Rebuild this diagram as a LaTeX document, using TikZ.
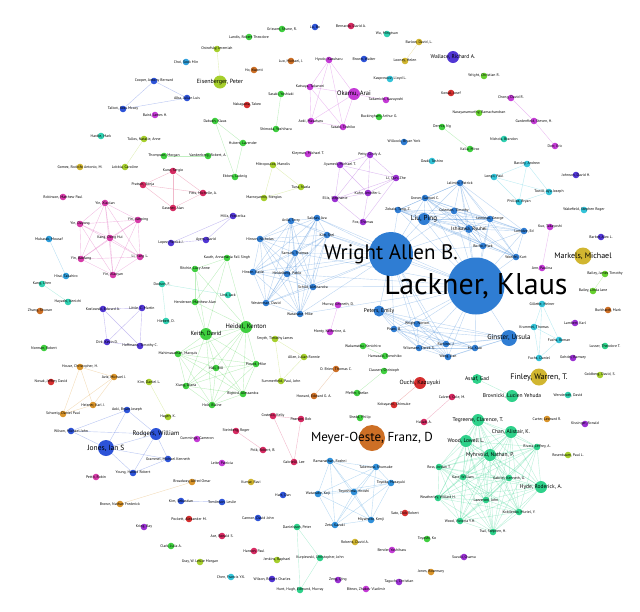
\documentclass[tikz,border=0pt]{standalone}
\usepackage{fontspec}
\setmainfont{PT Sans}
\usetikzlibrary{backgrounds}
\definecolor{cB}{HTML}{2F7DD3}
\definecolor{cBb}{HTML}{3090DA}
\definecolor{cD}{HTML}{2D53D8}
\definecolor{cI}{HTML}{5136D4}
\definecolor{cM}{HTML}{C43AD6}
\definecolor{cP}{HTML}{9A30D2}
\definecolor{cK}{HTML}{D63AA8}
\definecolor{cC}{HTML}{D62A62}
\definecolor{cR}{HTML}{D62F2F}
\definecolor{cO}{HTML}{CD6F25}
\definecolor{cOy}{HTML}{D9942A}
\definecolor{cY}{HTML}{D1B630}
\definecolor{cL}{HTML}{A6CF2C}
\definecolor{cLG}{HTML}{66D02F}
\definecolor{cG}{HTML}{3FCF3F}
\definecolor{cT}{HTML}{2ED18A}
\definecolor{cQ}{HTML}{2FD0B0}
\definecolor{cS}{HTML}{33C3D8}
\definecolor{cSky}{HTML}{2F9FDC}
\tikzset{
 v/.style={circle,inner sep=0pt,minimum size=6.6pt,draw=none},
 lab/.style={inner sep=0pt,text=black,font=\fontsize{3.8}{4}\selectfont},
 e/.style={line width=0.4pt,opacity=0.33},
}
\newcommand\vx[5]{\node[v,fill=#4,label={[lab]center:{#5}}] (#1) at (#2,#3) {};}
\newcommand\vb[7]{\node[v,minimum size=#6,fill=#4,label={[lab,font=\fontsize{#7}{#7}\selectfont]center:{#5}}] (#1) at (#2,#3) {};}
\newcommand\pr[3]{\draw[e,#1] (#2) -- (#3);}
\newcommand\hub[3]{\foreach \b in {#3}{\draw[e,#1] (#2) -- (\b);}}
\newcommand\clq[2]{\foreach \a [count=\i] in {#2}{\foreach \b [count=\j] in {#2}{\ifnum\j>\i\relax\draw[e,#1] (\a) -- (\b);\fi}}}
\begin{document}
\begin{tikzpicture}[x=1pt,y=-1pt]
\useasboundingbox (0,0) rectangle (640,611);
% top
\vx{landis}{249}{37}{cG}{Landis, Robert Theodore}
\vx{grissom}{282}{29}{cG}{Grissom, Shane, R.}
\vx{lubo}{315}{27}{cD}{Lu, Bo}
\vx{bernardo}{351}{26}{cC}{Bernardo, David A.}
\vx{wu}{387}{34}{cQ}{Wu, Mingtsun}
\vx{barlow}{419}{42}{cY}{Barlow, David, L.}
\vx{looney}{405}{61}{cY}{Looney, Helen}
\vb{wallace}{453}{57}{cI}{Wallace, Richard A.}{12}{5.5}
\vx{wrightc}{484}{76}{cLG}{Wright, Christian R.}
\vx{ostrof}{217}{49}{cL}{Ostrofsky, Jeremiah}
\vx{choi}{186}{62}{cSky}{Choi, Sook Min}
\vx{luo}{291}{61}{cO}{Luo, Michael, J.}
\vx{ho}{254}{70}{cO}{Ho, Kwonti}
\vb{eisen}{220}{82}{cL}{Eisenberger, Peter}{13}{6}
\vx{cooper}{154}{81}{cD}{Cooper, Antony Bernard}
\vx{talbot}{123}{109}{cD}{Talbot, Ross Mccoy}
\vx{alba}{187}{98}{cD}{Alba, Julian Luis}
\vx{baird}{155}{115}{cM}{Baird, James H.}
\vx{naka}{247}{105}{cR}{Nakagawa, Takeo}
\vx{sasakiy}{281}{94}{cG}{Sasaki, Yoshiaki}
\vx{shimoda}{276}{129}{cG}{Shimoda, Yoshiharu}
\vx{hyodo}{329}{60}{cM}{Hyodo, Kazuharu}
\vx{kanatsu}{310}{87}{cM}{Katsuya, Takanori}
\vx{aokim}{311}{121}{cM}{Aoki, Masaharu}
\vb{okamu}{354}{94}{cM}{Okamu, Arai}{12}{6.5}
\vx{sasakit}{343}{127}{cM}{Sasaki, Toshiko}
\vx{tada}{386}{100}{cM}{Tadamichi, Kazuyoshi}
\vx{brown}{364}{59}{cD}{Brown, Walter}
\vx{kaspr}{390}{79}{cS}{Kasprowicz, Lloyd L.}
\vx{buck}{379}{117}{cG}{Buckingham, Arthur G.}
\vx{kowal}{451}{93}{cR}{Kowal, Josef}
\vx{naray}{479}{113}{cLG}{Narayanamurthy, Ramachandran}
\vx{dennis}{442}{127}{cG}{Dennis, Ng}
\vx{kalla}{470}{149}{cG}{Kalla, Mirco}
\vx{wilc}{404}{142}{cB}{Willcock, Bryan York}
\vx{ozaki}{432}{161}{cS}{Ozaki, Toshiro}
\vx{chong}{511}{98}{cM}{Chong, David R.}
\vx{garden}{534}{121}{cM}{Gardenfield, Steven, H.}
\vx{dorr}{555}{146}{cM}{Dorr, Eric}
\vx{nichols}{504}{139}{cQ}{Nichols, Brandon}
\vx{barcley}{527}{164}{cS}{Barcley, Andrew}
\vx{longo}{494}{177}{cS}{Longo, Paul}
\vx{towill}{549}{192}{cS}{Towill, Ayu Joseph}
\vx{phillips}{519}{202}{cS}{Phillips, Bryan}
\vx{johnson}{576}{175}{cI}{Johnson, David H.}
% left
\vx{hardie}{101}{136}{cQ}{Hardie, Mark}
\vx{tullos}{144}{139}{cL}{Tullos, Natalie, Anne}
\vx{gomez}{80}{167}{cY}{Gomez, Rodolfo Antonio, M.}
\vx{lobbia}{125}{167}{cL}{Lobbia, Caroline}
\vx{thompson}{164}{156}{cG}{Thompson, Morgan}
\vx{vanden}{208}{156}{cG}{Vandenberg, Robert, A.}
\vx{dabush}{215}{121}{cG}{Dabush, Klaus}
\vx{hubert}{243}{143}{cG}{Hubert, Lavender}
\vx{ebberl}{235}{177}{cG}{Ebberl, Ludwig}
\vx{kleyman}{308}{154}{cM}{Kleyman, Michael T.}
\vx{mitro}{273}{165}{cL}{Mitropoulos, Manolis}
\vx{tuna}{301}{187}{cL}{Tuna, Nazla}
\vx{mavro}{264}{198}{cL}{Mavroyannis, Stergios}
\vx{kunz}{173}{171}{cC}{Kunz, Sergio}
\vx{fitts}{203}{193}{cC}{Fitts, Michelle, A.}
\vx{pratsch}{143}{185}{cC}{Pratsch, Sonja}
\vx{gassner}{173}{208}{cC}{Gassner, Alan}
\vx{robinson}{63}{197}{cK}{Robinson, Matthew Paul}
\vx{yx}{105}{203}{cK}{Yin, Xiaolan}
\vx{yd}{80}{224}{cK}{Yin, Dayong}
\vx{yj}{138}{220}{cK}{Yin, Jianping}
\vx{kd}{110}{238}{cK}{Kang, Dong Hui}
\vx{yb}{81}{259}{cK}{Yin, Baofang}
\vx{lf}{140}{257}{cK}{Li, Fang L.}
\vx{yy}{113}{275}{cK}{Yin, Xiaoyan}
\vx{mubarak}{49}{239}{cSky}{Mubarak, Mousaf}
\vx{hirai}{66}{276}{cSky}{Hirai, Takahiro}
\vx{kangc}{42}{284}{cQ}{Kang, Chen}
\vx{hayashi}{68}{302}{cQ}{Hayashi, Kenichi}
\vx{zhang}{40}{311}{cO}{Zhang, Shunan}
\vx{kozl}{103}{309}{cI}{Kozlowski, Edward A.}
\vx{little}{142}{308}{cI}{Little, C. Martin}
\vx{dirk}{107}{342}{cI}{Dirk, Kevin D.}
\vx{hoff}{140}{346}{cI}{Hoffmann, Timothy C.}
\vx{norman}{44}{348}{cG}{Norman, Robert}
\vx{house}{80}{367}{cOy}{House, Christopher, H.}
\vx{aziz}{114}{377}{cOy}{Aziz, Michael J.}
\vx{novak}{51}{382}{cR}{Novak, Jeffrey David}
\vx{kimd}{149}{382}{cL}{Kim, Daniel L.}
\vx{heisner}{93}{405}{cOy}{Heisner, Karl J.}
\vx{schweig}{63}{414}{cOy}{Schweig, Daniel Paul}
\vx{mills}{233}{216}{cI}{Mills, Frederika}
\vx{lopez}{171}{243}{cI}{Lopez, Patrick J.}
\vx{ayers}{206}{240}{cI}{Ayers, David}
% blue left group
\vx{avila}{291}{221}{cB}{Avila, Terry}
\vx{salinas}{317}{218}{cB}{Salinas, Ava}
\vx{hinson}{260}{239}{cB}{Hinson, Nicholas}
\vx{samuel}{295}{253}{cB}{Samuel, Thomas}
\vx{hinsen}{253}{272}{cB}{Hinsen, Katie}
\vx{heidelb}{287}{274}{cB}{Heidelberg, Pablo}
\vx{schild}{313}{287}{cB}{Schild, Aleksandra}
\vx{wester}{266}{303}{cB}{Westerman, David}
\vx{watan}{300}{314}{cB}{Watanabe, Mike}
\vx{kimst}{327}{235}{cB}{Kim, Stel}
% purple group
\vx{petty}{370}{155}{cP}{Petty, Cindy A.}
\vx{jiya}{340}{165}{cP}{Jiyamedi, Michael T.}
\vx{liq}{396}{178}{cP}{Li, Qun, Zhe}
\vx{ellis}{335}{199}{cP}{Ellis, Stephanie}
\vx{kuhn}{368}{193}{cP}{Kuhn, Jennifer L.}
\vx{fox}{363}{222}{cP}{Fox, Thomas}
% Lackner group
\vb{lackner}{476}{286}{cB}{Lackner, Klaus}{57}{30}
\vb{wright}{391}{254}{cB}{Wright Allen B.}{44}{21}
\vb{liu}{424}{219}{cB}{Liu, Ping}{12}{7}
\vx{zobaid}{398}{210}{cB}{Zobaid, Tang, Z.}
\vx{coleman}{454}{211}{cB}{Coleman, Timothy}
\vb{ishi}{469}{229}{cB}{Ishikawa, Ryuhei}{8}{5}
\vx{jalim}{460}{183}{cB}{Jalimini, Patrick}
\vx{grover}{425}{198}{cB}{Grover, Samuel C.}
\vx{lemieux}{490}{219}{cB}{Lemieux, George}
\vx{lomid}{524}{231}{cB}{Lomidze, Ed}
\vx{markb}{483}{246}{cB}{Borho, Mark}
\vx{woelf}{516}{257}{cB}{Woelfel, Kurt}
\vb{peters}{379}{311}{cB}{Peters, Emily}{11}{5.5}
\vx{pirani}{394}{329}{cB}{Pirani, B.}
\vx{wrightn}{417}{324}{cB}{Wright, Norton}
\vx{wilsm}{419}{348}{cB}{Wilsmann, Derek S.}
\vx{ramirez}{446}{344}{cB}{Ramirez, J.}
\vx{wangj}{448}{357}{cB}{Wang, Jian}
\vx{max}{475}{348}{cB}{Ma, Xiao}
\vb{ginster}{509}{338}{cB}{Ginster, Ursula}{16}{7}
% right
\vx{wakef}{584}{210}{cS}{Wakefield, Stephen Roger}
\vx{kuo}{550}{227}{cM}{Kuo, Takayoshi}
\vx{ann}{542}{268}{cM}{Ann, Paulina}
\vx{barber}{601}{237}{cI}{Barber, Alex L.}
\vb{markels}{583}{256}{cY}{Markels, Michael}{17}{8}
\vx{baileyj}{605}{274}{cLG}{Bailey, James Timothy}
\vx{baileyl}{593}{291}{cLG}{Bailey, Linda Jane}
\vx{burk}{608}{310}{cO}{Burkhardt, Mark}
\vx{gillette}{542}{304}{cS}{Gillette, Heiner}
\vx{lambert}{575}{323}{cP}{Lambert, Karl}
\vx{krummel}{534}{327}{cS}{Krummel, Thomas}
\vx{fuchsr}{559}{340}{cS}{Fuchs, Roman}
\vx{lusser}{605}{346}{cT}{Lusser, Theodore T.}
\vx{fuchsd}{539}{358}{cS}{Fuchs, Daniel}
\vx{gohdel}{573}{358}{cP}{Gohdel, Ramsey}
\vb{finley}{539}{377}{cY}{Finley, Warren, T.}{17}{8}
\vx{goldberg}{600}{375}{cL}{Goldberg, David, S.}
\vx{wender}{568}{395}{cQ}{Wenderoth, David}
\vb{assaf}{477}{379}{cT}{Assaf, Gad}{10}{5.5}
\vb{brov}{512}{396}{cT}{Brovnicki, Lucien Yehuda}{12}{5.5}
% middle
\vx{murray}{338}{305}{cM}{Murray, Kenneth, D.}
\vx{monty}{330}{332}{cM}{Monty, Katherine, A.}
\vx{smyth}{275}{339}{cL}{Smyth, Timothy James}
\vx{allen}{304}{357}{cL}{Allen, Julian Ronnie}
\vx{summer}{281}{381}{cL}{Summerfield, Paul, John}
\vx{howard}{314}{396}{cO}{Howard, Edward G. A.}
\vx{bilker}{336}{369}{cO}{O. Brien, Thomas C.}
\vx{wakam}{363}{346}{cG}{Wakamatsu, Kenichiro}
\vx{hamas}{385}{356}{cG}{Hamasaki, Tomohiko}
\vx{clausen}{384}{371}{cG}{Clausen, Christoph}
\vx{pfeffer}{357}{393}{cG}{Pfeffer, Stefan}
\vb{ouchi}{420}{383}{cR}{Ouchi, Kazuyuki}{12}{6}
\vx{calvert}{452}{397}{cC}{Calvert, Cole, M.}
\vx{koba}{394}{405}{cR}{Kobayashi, Shinsuke}
% Keith group
\vx{kauth}{227}{258}{cG}{Kauth, Annamaria Fall Singh}
\vx{ritchie}{195}{269}{cG}{Ritchie, Lucy Anne}
\vx{dodson}{162}{284}{cQ}{Dodson, F.}
\vx{lind}{228}{295}{cQ}{Lind, Jack}
\vx{hender}{195}{302}{cG}{Henderson, Matthew Alan}
\vx{hiebert}{166}{321}{cQ}{Hiebert, D.}
\vb{keith}{206}{334}{cG}{Keith, David}{12}{6}
\vb{heidel}{246}{327}{cG}{Heidel, Kenton}{12}{6.5}
\vx{mahima}{178}{354}{cG}{Mahimasathan, Marquis}
\vx{hall}{216}{368}{cG}{Hall, Bill}
\vx{pinard}{256}{364}{cG}{Pinard, Mike}
\vx{xiang}{186}{386}{cG}{Xiang, Diana}
\vx{bigbird}{243}{394}{cG}{Bigbird, Alessandra}
\vx{holt}{212}{405}{cG}{Holt, Blaine}
% Jones group
\vx{aokib}{127}{410}{cD}{Aoki, Bryan Joseph}
\vx{wilsonm}{71}{431}{cD}{Wilson, Michael John}
\vb{rodgers}{156}{434}{cD}{Rodgers, William}{12}{6.5}
\vb{jones}{106}{448}{cD}{Jones, Ian S}{16}{7.5}
\vx{grammel}{168}{459}{cD}{Grammel, Michael Kenneth}
\vx{young}{133}{473}{cD}{Young, Harold Robert}
\vx{pettit}{96}{477}{cK}{Pettit, Robin}
\vx{brownn}{120}{504}{cOy}{Brown, Nathan Frederick}
\vx{krieg}{144}{527}{cP}{Krieg, Ray}
\vx{hagen}{168}{417}{cL}{Hagen, K.}
% bottom middle
\vx{cummings}{197}{439}{cM}{Cummings, Cameron}
\vx{steinb}{236}{431}{cC}{Steinberg, Roger}
\vx{polk}{263}{450}{cC}{Polk, Robert, B.}
\vx{costello}{273}{416}{cC}{Costello, Kelly}
\vx{pearson}{301}{419}{cC}{Pearson, Bob}
\vx{gabri}{294}{462}{cC}{Gabrielli, Lee}
\vx{leite}{222}{463}{cM}{Leite, Patricia}
\vx{broad}{192}{482}{cOy}{Broadway, Alfred Omar}
\vx{kumar}{251}{482}{cY}{Kumar, Ravi}
\vx{kims}{181}{501}{cD}{Kim, Sebastian}
\vx{tomlin}{222}{502}{cD}{Tomlinson, Leslie}
\vx{hart}{283}{495}{cD}{Hart, Dan}
\vx{pockett}{189}{519}{cR}{Pockett, Alexander M.}
\vx{cannon}{258}{518}{cD}{Cannon, David John}
\vx{clark}{171}{546}{cG}{Clark, Julia A.}
\vx{ace}{222}{536}{cC}{Ace, Ronald S.}
\vx{hanson}{254}{551}{cC}{Hanson, Paul}
\vx{jenkins}{277}{560}{cL}{Jenkins, Raphael}
\vx{gray}{200}{562}{cL}{Gray, W. Leslie Morgan}
\vx{chenf}{231}{577}{cS}{Chen, Francis Y.K.}
\vx{wilsonr}{272}{579}{cI}{Wilson, Robert Charles}
\vx{daniel}{297}{527}{cT}{Danielsson, Peter}
\vx{kurp}{320}{558}{cT}{Kurpiewski, Christopher, John}
\vx{hunt}{300}{590}{cT}{Hunt, Hugh, Edmund, Murray}
% bottom blue group
\vx{raman}{330}{461}{cBb}{Ramanathan, Roshni}
\vx{takem}{376}{467}{cBb}{Takemura, Shunsuke}
\vx{toyoda}{391}{483}{cBb}{Toyoda, Masayuki}
\vx{toyosh}{354}{492}{cBb}{Toyoshima, Hiroshi}
\vx{watanab}{318}{494}{cBb}{Watanabe, Koji}
\vx{zeto}{335}{525}{cBb}{Zeto, Kazuki}
\vx{miyam}{371}{520}{cBb}{Miyamoto, Kenji}
\vx{shedd}{360}{418}{cG}{Shedd, Philip}
\vx{hallab}{424}{422}{cC}{Hallab, A.}
\vb{meyer}{372}{438}{cO}{Meyer-Oeste, Franz, D}{26}{13}
\vx{sato}{405}{513}{cR}{Sato, Dick Robert}
\vx{roberts}{355}{542}{cY}{Roberts, David A.}
\vx{toyoshk}{427}{539}{cG}{Toyoshi, Ko}
\vx{bender}{392}{550}{cM}{Bender, Yoshiharu}
\vx{suzuki}{464}{557}{cP}{Suzuki, Osamu}
\vx{jonesr}{431}{572}{cOy}{Jones, Rosemary}
\vx{zeng}{338}{580}{cP}{Zeng, Qing}
\vx{taguchi}{399}{582}{cP}{Taguchi, Christian}
\vx{bitnov}{366}{589}{cM}{Bitnov, Zhakov Vladimir}
% teal group
\vb{tegreene}{478}{420}{cT}{Tegreene, Clarence, T.}{12}{5.5}
\vb{chan}{511}{432}{cT}{Chan, Alistair, K.}{12}{5.5}
\vb{woodll}{466}{441}{cT}{Wood, Lowell L.}{12}{5.5}
\vb{myhr}{490}{455}{cT}{Myhrvold, Nathan, P.}{12}{5.5}
\vx{rivera}{537}{447}{cT}{Rivera, Jeffrey, A.}
\vx{ross}{439}{467}{cT}{Ross, Jordan T.}
\vx{kare}{463}{477}{cT}{Kare, William}
\vx{gabriel}{509}{478}{cT}{Gabriel, Kenneth, G.}
\vb{hyde}{541}{487}{cT}{Hyde, Roderick, A.}{12}{5.5}
\vx{weath}{438}{498}{cT}{Weatherley, Willard H.}
\vx{lazz}{486}{500}{cT}{Lazzeroni, John}
\vx{kobil}{519}{512}{cT}{Kobilenko, Muriel, Y.}
\vx{woodv}{460}{521}{cT}{Wood, Victoria Y.H.}
\vx{tsai}{493}{532}{cT}{Tsai, Stephen, H.}
\vx{carter}{547}{419}{cOy}{Carter, Leonard R.}
\vx{kiss}{585}{424}{cP}{Kissinger, Ronald}
\vx{rosen}{568}{455}{cL}{Rosenbaum, Paul L.}

\begin{pgfonlayer}{background}
\clq{cD}{cooper,talbot,alba}
\pr{cY}{barlow}{looney}
\pr{cL}{ostrof}{eisen}
\pr{cG}{sasakiy}{shimoda}
\clq{cM}{hyodo,kanatsu,aokim,okamu,sasakit}
\pr{cM}{okamu}{tada}
\pr{cG}{dennis}{kalla}
\pr{cM}{chong}{garden}
\pr{cM}{garden}{dorr}
\clq{cS}{barcley,longo,towill,phillips}
\pr{cL}{tullos}{lobbia}
\pr{cG}{thompson}{vanden}
\clq{cG}{dabush,hubert,ebberl}
\clq{cL}{mitro,tuna,mavro}
\clq{cC}{kunz,fitts,pratsch,gassner}
\clq{cK}{yx,yd,yj,kd,yb,lf,yy}
\pr{cSky}{mubarak}{hirai}
\pr{cQ}{kangc}{hayashi}
\clq{cI}{kozl,little,dirk,hoff}
\clq{cOy}{house,aziz,heisner,schweig}
\clq{cI}{mills,lopez,ayers}
\clq{cB}{avila,salinas,hinson,samuel,hinsen,heidelb,schild,wester,watan,kimst}
\hub{cB}{wright}{avila,salinas,hinson,samuel,hinsen,heidelb,schild,wester,watan,kimst,lackner,liu,zobaid,grover,coleman,ishi,peters,pirani,wrightn,wilsm,ramirez,wangj,markb}
\hub{cB}{lackner}{salinas,samuel,schild,watan,heidelb,kimst,liu,zobaid,coleman,ishi,jalim,grover,lemieux,lomid,markb,woelf,peters,pirani,wrightn,wilsm,ramirez,wangj,max,ginster}
\clq{cB}{liu,zobaid,coleman,ishi,jalim,grover,lemieux,lomid,markb,woelf}
\clq{cB}{peters,pirani,wrightn,wilsm,ramirez,wangj,max,ginster}
\clq{cP}{petty,jiya,liq,ellis,kuhn}
\hub{cP}{fox}{ellis,kuhn,liq}
\pr{cM}{kuo}{ann}
\pr{cLG}{baileyj}{baileyl}
\clq{cS}{gillette,krummel,fuchsr,fuchsd}
\pr{cT}{assaf}{brov}
\pr{cM}{murray}{monty}
\clq{cL}{smyth,allen,summer}
\pr{cO}{bilker}{howard}
\pr{cG}{wakam}{hamas}
\pr{cG}{clausen}{pfeffer}
\pr{cR}{ouchi}{koba}
\pr{cC}{hallab}{calvert}
\hub{cG}{keith}{kauth,ritchie,hender,mahima,hall,pinard,xiang,bigbird,holt,heidel}
\hub{cG}{heidel}{kauth,ritchie,hender,mahima,hall,pinard,xiang,bigbird,holt}
\clq{cG}{mahima,hall,pinard,xiang,bigbird,holt}
\clq{cG}{kauth,ritchie,hender}
\pr{cQ}{dodson}{hiebert}
\pr{cQ}{dodson}{lind}
\hub{cD}{jones}{aokib,wilsonm,rodgers,young,grammel}
\hub{cD}{rodgers}{aokib,wilsonm,young,grammel}
\pr{cD}{aokib}{wilsonm}
\pr{cD}{young}{grammel}
\pr{cL}{kimd}{hagen}
\pr{cOy}{brownn}{broad}
\pr{cC}{steinb}{polk}
\clq{cC}{costello,pearson,gabri}
\pr{cD}{kims}{tomlin}
\clq{cT}{daniel,kurp,hunt}
\clq{cBb}{raman,takem,toyoda,toyosh,watanab,zeto,miyam}
\clq{cT}{tegreene,chan,woodll,myhr,rivera,ross,kare,gabriel,hyde,weath,lazz,kobil,woodv,tsai}
\end{pgfonlayer}
\end{tikzpicture}
\end{document}
